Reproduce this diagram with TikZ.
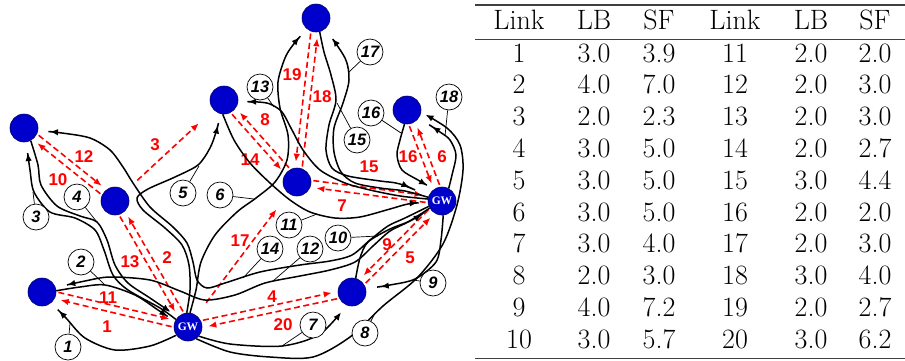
\documentclass[tikz,border=0pt]{standalone}
\usepackage{fontspec}
\newfontfamily\labfont{Liberation Sans}
\newfontfamily\gwfont{Liberation Serif}
\usetikzlibrary{arrows.meta,calc}
\definecolor{nodeblue}{RGB}{0,0,204}
\definecolor{linkred}{RGB}{255,0,0}
\newcommand\mylink[4]{\draw[link] ($(#1)!3.5pt!#3:(#2)$) -- ($(#2)!3.5pt!#4:(#1)$);}
\begin{document}
\begin{tikzpicture}[x=1pt,y=-1pt,
  nd/.style={circle, fill=nodeblue, draw=black!60!blue, line width=0.6pt, minimum size=28pt, inner sep=0pt},
  gw/.style={nd, text=white, font=\gwfont\bfseries\fontsize{11.5}{11.5}\selectfont},
  flow/.style={draw=black, line width=1.5pt, -{Latex[length=8pt,width=6.5pt]}},
  link/.style={draw=linkred, line width=1.6pt, dash pattern=on 6pt off 3.5pt, -{Latex[length=8pt,width=6.5pt]}, shorten <=16pt, shorten >=20pt},
  rl/.style={text=linkred, font=\labfont\bfseries\fontsize{17}{17}\selectfont, inner sep=0pt},
  cl/.style={circle, draw=black, line width=0.7pt, fill=white, minimum size=26pt, inner sep=0pt, font=\labfont\bfseries\itshape\fontsize{16.5}{16.5}\selectfont},
  leader/.style={draw=black, line width=0.7pt},
  tb/.style={font=\fontsize{28}{28}\selectfont, anchor=base, inner sep=0pt},
  rule/.style={draw=black!75, line width=1.4pt}
]
\useasboundingbox (0,0) rectangle (905,360);

% ---- network nodes
\node[nd] (A) at (24,128) {};
\node[nd] (B) at (115,201) {};
\node[nd] (C) at (42,292) {};
\node[gw] (GW1) at (188,327) {GW};
\node[nd] (D) at (224,100) {};
\node[nd] (E) at (316,18) {};
\node[nd] (F) at (297,182) {};
\node[nd] (G) at (407,110) {};
\node[gw] (GW2) at (442,201) {GW};
\node[nd] (H) at (352,292) {};

% ---- red dashed links
\mylink{C}{GW1}{90}{-90}   % 11
\mylink{GW1}{C}{90}{-90}   % 1
\mylink{B}{GW1}{-90}{90}   % 13
\mylink{GW1}{B}{-90}{90}   % 2
\draw[link] (B) -- (D);    % 3
\mylink{A}{B}{90}{-90}     % 12
\mylink{B}{A}{90}{-90}     % 10
\mylink{D}{F}{-90}{90}     % 14
\mylink{F}{D}{-90}{90}     % 8
\mylink{E}{F}{-90}{90}     % 19
\mylink{F}{E}{-90}{90}     % 18
\draw[link] (GW1) -- (F);  % 17
\mylink{F}{GW2}{90}{-90}   % 15
\mylink{GW2}{F}{90}{-90}   % 7
\mylink{G}{GW2}{-90}{90}   % 16
\mylink{GW2}{G}{-90}{90}   % 6
\mylink{GW2}{H}{-90}{90}   % 9
\mylink{H}{GW2}{-90}{90}   % 5
\mylink{GW1}{H}{90}{-90}   % 4
\mylink{H}{GW1}{90}{-90}   % 20

% ---- red link labels
\node[rl] (k1) at (107,327) {1};
\node[rl] (k11) at (108,298) {11};
\node[rl] (k13) at (130,262) {13};
\node[rl] (k2) at (167,258) {2};
\node[rl] (k3) at (155,145) {3};
\node[rl] (k12) at (84,157) {12};
\node[rl] (k10) at (58,180) {10};
\node[rl] (k8) at (265,120) {8};
\node[rl] (k14) at (250,160) {14};
\node[rl] (k19) at (292,75) {19};
\node[rl] (k18) at (322,97) {18};
\node[rl] (k17) at (240,241) {17};
\node[rl] (k15) at (369,167) {15};
\node[rl] (k7) at (342,206) {7};
\node[rl] (k16) at (408,157) {16};
\node[rl] (k6) at (442,157) {6};
\node[rl] (k9) at (387,245) {9};
\node[rl] (k5) at (410,258) {5};
\node[rl] (k4) at (272,297) {4};
\node[rl] (k20) at (283,325) {20};

% ---- black flows
\draw[flow, shorten >=11pt] plot[smooth] coordinates {(GW1.-145) (150,346) (115,350) (85,338) (66,318) (C.-50)}; % 1
\draw[flow, shorten >=9pt] plot[smooth] coordinates {(C.5) (80,287) (105,285) (135,295) (158,310) (GW1.157)}; % 2
\draw[flow, shorten >=11pt] plot[smooth] coordinates {(GW1.148) (160,308) (128,290) (113,275) (104,250) (95,230) (75,218) (50,212) (34,192) (30,170) (A.-81)}; % 3
\draw[flow, shorten >=9pt] plot[smooth] coordinates {(A.-62) (38,165) (41,185) (57,206) (80,216) (97,222) (107,240) (115,265) (128,283) (150,298) (GW1.135)}; % 4
\draw[flow, shorten >=12pt] plot[smooth] coordinates {(GW1.95) (190,290) (189,265) (182,245) (165,228) (143,210) (137,198) (148,189) (175,177) (198,165) (210,148) (216,132) (D.-103.5)}; % 5
\draw[flow, shorten >=11pt] plot[smooth] coordinates {(GW1.82) (196,290) (201,262) (215,235) (237,212) (256,198) (275,182) (287,160) (288,135) (280,108) (278,82) (285,58) (293,45) (E.-130)}; % 6
\draw[flow, shorten >=9pt] plot[smooth] coordinates {(GW1.-40) (230,344) (282,346) (320,334) (H.-113)}; % 7
\draw[flow, shorten >=5pt] plot[smooth] coordinates {(GW1.-55) (230,352) (270,357) (313,357) (350,337) (383,306) (417,278) (443,244) (457,205) (463,170) (460,145) (447,128) (G.-9)}; % 8
\draw[flow, shorten >=15pt] plot[smooth] coordinates {(GW2.-85) (441,240) (436,262) (415,279) (390,285) (H.14)}; % 9
\draw[flow, shorten >=10pt] plot[smooth] coordinates {(H.75) (360,258) (368,242) (390,229) (410,221) (GW2.-145)}; % 10
\draw[flow, shorten >=10pt] plot[smooth] coordinates {(D.-95) (234,140) (250,163) (270,183) (290,200) (310,212) (335,218) (360,217) (390,209) (408,204) (GW2.-175)}; % 11
\draw[flow, shorten >=12pt] plot[smooth] coordinates {(GW2.-150) (408,222) (390,231) (373,246) (355,262) (330,270) (300,276) (265,283) (235,295) (205,300) (180,291) (150,280) (110,277) (85,281) (C.18)}; % 12
\draw[flow, shorten >=10pt] plot[smooth] coordinates {(GW2.172) (400,196) (370,190) (345,183) (320,170) (303,150) (292,130) (282,112) (270,104) (258,102) (D.-7)}; % 13
\draw[flow, shorten >=12pt] plot[smooth] coordinates {(GW2.-158) (405,218) (388,226) (370,240) (352,255) (330,261) (300,265) (260,272) (225,283) (207,288) (197,280) (193,262) (187,243) (173,227) (150,207) (133,183) (123,167) (110,150) (90,138) (62,133) (A.-11)}; % 14
\draw[flow, shorten >=21pt] plot[smooth] coordinates {(E.-75) (324,52) (331,75) (336,100) (329,125) (326,150) (332,168) (348,176) (380,181) (400,184) (GW2.160)}; % 15
\draw[flow, shorten >=8pt] plot[smooth] coordinates {(G.-100) (400,140) (397,155) (402,170) (418,180) (GW2.124)}; % 16
\draw[flow, shorten >=12pt] plot[smooth] coordinates {(GW2.165) (405,191) (380,188) (355,183) (341,172) (334,152) (334,128) (343,103) (349,80) (345,58) (E.-50)}; % 17
\draw[flow, shorten >=16pt] plot[smooth] coordinates {(GW2.62) (452,175) (456,155) (450,140) (440,132) (G.-34)}; % 18

% ---- flow labels
\node[cl] (c1) at (68,347) {1};
\node[cl] (c2) at (81,262) {2};
\node[cl] (c3) at (36,217) {3};
\node[cl] (c4) at (77,197) {4};
\node[cl] (c5) at (183,193) {5};
\node[cl] (c6) at (220,195) {6};
\node[cl] (c7) at (313,325) {7};
\node[cl] (c8) at (365,333) {8};
\node[cl] (c9) at (433,283) {9};
\node[cl] (c10) at (338,238) {10};
\node[cl] (c11) at (289,225) {11};
\node[cl] (c12) at (310,249) {12};
\node[cl] (c13) at (260,87) {13};
\node[cl] (c14) at (270,249) {14};
\node[cl] (c15) at (357,140) {15};
\node[cl] (c16) at (371,113) {16};
\node[cl] (c17) at (370,52) {17};
\node[cl] (c18) at (449,97) {18};

\coordinate (l1) at (70,323);
\coordinate (l2) at (105,285);
\coordinate (l3) at (33,192);
\coordinate (l4) at (97,222);
\coordinate (l5) at (199,166);
\coordinate (l6) at (254,199);
\coordinate (l7) at (282,346);
\coordinate (l8) at (375,313);
\coordinate (l9) at (413,280);
\coordinate (l10) at (378,236);
\coordinate (l11) at (317,214);
\coordinate (l12) at (273,281);
\coordinate (l13) at (274,107);
\coordinate (l14) at (243,278);
\coordinate (l15) at (337,103);
\coordinate (l16) at (401,133);
\coordinate (l17) at (349,72);
\coordinate (l18) at (445,136);
\foreach \n in {1,...,18}{\draw[leader] (c\n) -- (l\n);}

% ---- table
\draw[rule] (475,5) -- (905,5);
\draw[rule, line width=1pt] (475,39) -- (905,39);
\draw[rule] (475,358.5) -- (905,358.5);
\node[tb] (h1) at (519,29) {Link};
\node[tb] (h2) at (594,29) {LB};
\node[tb] (h3) at (659,29) {SF};
\node[tb] (h4) at (735,29) {Link};
\node[tb] (h5) at (811,29) {LB};
\node[tb] (h6) at (875,29) {SF};
\foreach \ca/\cb/\cc/\cd/\ce/\cf [count=\i] in {
  1/3.0/3.9/11/2.0/2.0,
  2/4.0/7.0/12/2.0/3.0,
  3/2.0/2.3/13/2.0/3.0,
  4/3.0/5.0/14/2.0/2.7,
  5/3.0/5.0/15/3.0/4.4,
  6/3.0/5.0/16/2.0/2.0,
  7/3.0/4.0/17/2.0/3.0,
  8/2.0/3.0/18/3.0/4.0,
  9/4.0/7.2/19/2.0/2.7,
  10/3.0/5.7/20/3.0/6.2}{
  \pgfmathsetmacro\yy{62+31.8*(\i-1)}
  \node[tb] (r\i c1) at (519,\yy) {\ca};
  \node[tb] (r\i c2) at (594,\yy) {\cb};
  \node[tb] (r\i c3) at (659,\yy) {\cc};
  \node[tb] (r\i c4) at (735,\yy) {\cd};
  \node[tb] (r\i c5) at (811,\yy) {\ce};
  \node[tb] (r\i c6) at (875,\yy) {\cf};
}
\end{tikzpicture}
\end{document}
